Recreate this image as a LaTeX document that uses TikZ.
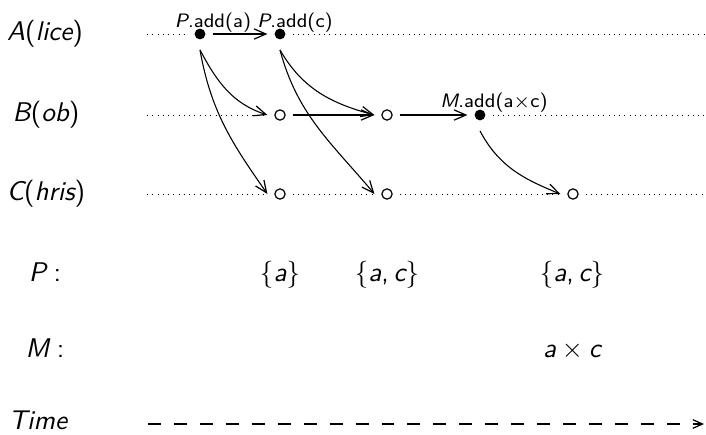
\documentclass[tikz,border=0pt]{standalone}
\usetikzlibrary{arrows.meta}
\tikzset{
  ev/.style={rectangle, draw=none, minimum width=9.3pt, minimum height=11.8pt, inner sep=0pt, outer sep=0pt},
  lane/.style={line width=0.35pt, dash pattern=on 0.35pt off 1.6pt},
  msg/.style={line width=0.4pt, -{Straight Barb[length=4.4pt,width=3.8pt,line width=0.45pt]}},
  timeline/.style={line width=0.4pt, dash pattern=on 4.8pt off 4.8pt, -{Straight Barb[length=3.6pt,width=3.2pt,line width=0.45pt]}},
  rowlab/.style={anchor=mid, font=\sffamily},
  oplab/.style={anchor=base, font=\sffamily\fontsize{7.2}{9}\selectfont},
  val/.style={anchor=base, font=\sffamily}
}
\begin{document}
\begin{tikzpicture}[x=0.37pt,y=0.37pt]
\useasboundingbox (0,0) rectangle (706,-434);
% row labels
\node[rowlab] (la) at (45,-35) {\itshape A\upshape(\itshape lice\upshape)};
\node[rowlab] (lb) at (46,-116) {\itshape B\upshape(\itshape ob\upshape)};
\node[rowlab] (lc) at (46,-195) {\itshape C\upshape(\itshape hris\upshape)};
% events
\node[ev] (a1) at (200,-34) {};
\node[ev] (a2) at (280,-34) {};
\node[ev] (b1) at (280,-115) {};
\node[ev] (b2) at (387,-115) {};
\node[ev] (m)  at (480,-115) {};
\node[ev] (c1) at (280,-194) {};
\node[ev] (c2) at (387,-194) {};
\node[ev] (c3) at (573,-194) {};
\foreach \n in {a1,a2,m} \fill (\n) circle (2pt);
\foreach \n in {b1,b2,c1,c2,c3} \draw[line width=0.45pt] (\n) circle (1.9pt);
% lane ends
\coordinate (sa) at (147,-34);
\coordinate (sb) at (147,-115);
\coordinate (sc) at (147,-194);
\coordinate (ea) at (706,-34);
\coordinate (eb) at (706,-115);
\coordinate (ec) at (706,-194);
% dotted lanes
\draw[lane] (sa) -- (a1);
\draw[lane] (a2) -- (ea);
\draw[lane] (sb) -- (b1);
\draw[lane] (m) -- (eb);
\draw[lane] (sc) -- (c1);
\draw[lane] (c1) -- (c2);
\draw[lane] (c2) -- (c3);
\draw[lane] (c3) -- (ec);
% operation labels
\node[oplab] (la1) at (213,-27) {\itshape P\upshape.add(a)};
\node[oplab] (la2) at (295,-27) {\itshape P\upshape.add(c)};
\node[oplab] (lm) at (494,-107) {\itshape M\upshape.add(a$\times$c)};
% messages
\draw[msg] (a1) -- (a2);
\draw[msg] (b1) -- (b2);
\draw[msg] (b2) -- (m);
\draw[msg] (a1.south) to[out=-62,in=162] (b1.west);
\draw[msg] (a1.south) to[out=-80,in=125] (c1.west);
\draw[msg] (a2.south) to[out=-60,in=165] (b2.west);
\draw[msg] (a2.south) to[out=-75,in=130] (c2.west);
\draw[msg] (m.south) to[out=-62,in=158] (c3.west);
% state rows
\node[val] (lp) at (45,-281) {\itshape P\upshape\;:};
\node[val] (lmm) at (45,-357) {\itshape M\upshape\;:};
\node[val] (lt) at (38,-429) {\itshape Time};
\node[val] (p1) at (280,-281) {$\{$\itshape a\upshape$\}$};
\node[val] (p2) at (387,-281) {$\{$\itshape a\upshape,\hspace{1.7pt}\itshape c\upshape$\}$};
\node[val] (p3) at (572,-281) {$\{$\itshape a\upshape,\hspace{1.7pt}\itshape c\upshape$\}$};
\node[val] (m3) at (572,-357) {\itshape a\upshape\hspace{2.2pt}$\times$\hspace{2.2pt}\itshape c};
% time axis
\coordinate (ts) at (148,-424);
\coordinate (te) at (704,-424);
\draw[timeline] (ts) -- (te);
\end{tikzpicture}
\end{document}
